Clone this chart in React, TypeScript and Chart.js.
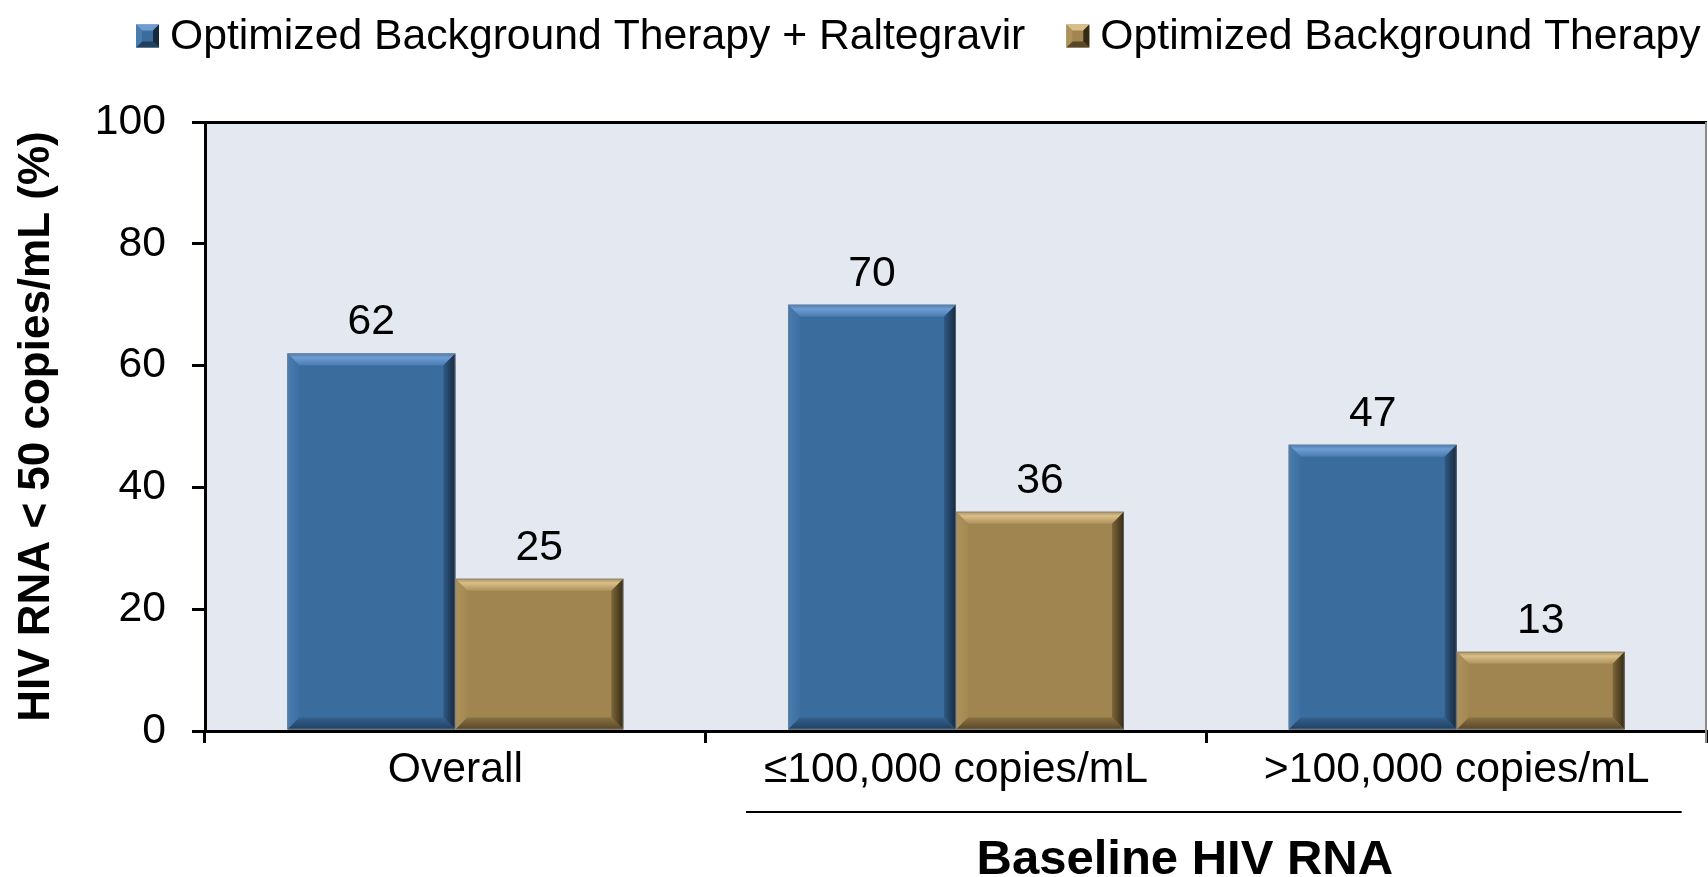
import React, { useEffect, useRef } from "react";
import { Chart, registerables } from "chart.js";

Chart.register(...registerables);

const categories = ["Overall", "\u2264100,000 copies/mL", ">100,000 copies/mL"];
const seriesLabels = ["Optimized Background Therapy + Raltegravir", "Optimized Background Therapy"];
const raltegravirValues = [62, 70, 47];
const obtValues = [25, 36, 13];
const yMin = 0;
const yMax = 100;
const yStep = 20;
const yAxisTitle = "HIV RNA < 50 copies/mL (%)";
const xAxisTitle = "Baseline HIV RNA";

const FONT = "'Liberation Sans', Arial, Helvetica, sans-serif";
const FS = 42.7;

type Palette = { main: string; top: [string, string]; right: [string, string]; bottom: [string, string]; left: [string, string] };
const palettes: Palette[] = [
  { main: "#3A6C9D", top: ["#6E9DD2", "#4A7BB0"], right: ["#17293D", "#2F5A86"], bottom: ["#22415F", "#34618F"], left: ["#4A7CB0", "#3D6FA2"] },
  { main: "#A08550", top: ["#D8BE88", "#AE925C"], right: ["#332914", "#7E6839"], bottom: ["#574728", "#8A7143"], left: ["#AE925C", "#A38852"] },
];

const bgPlugin = {
  id: "plotBg",
  beforeDraw(chart: any) {
    const { ctx, chartArea: a } = chart;
    ctx.save();
    ctx.fillStyle = "#E4E8F1";
    ctx.fillRect(a.left, a.top, a.right - a.left, a.bottom - a.top);
    ctx.restore();
  },
};

function poly(ctx: CanvasRenderingContext2D, pts: number[][], fill: any) {
  ctx.beginPath();
  ctx.moveTo(pts[0][0], pts[0][1]);
  for (let i = 1; i < pts.length; i++) ctx.lineTo(pts[i][0], pts[i][1]);
  ctx.closePath();
  ctx.fillStyle = fill;
  ctx.fill();
}

const bevelPlugin = {
  id: "bevel",
  afterDatasetsDraw(chart: any) {
    const ctx: CanvasRenderingContext2D = chart.ctx;
    chart.data.datasets.forEach((ds: any, di: number) => {
      const meta = chart.getDatasetMeta(di);
      const p = palettes[di];
      meta.data.forEach((el: any, i: number) => {
        const { x, y, base, width } = el.getProps(["x", "y", "base", "width"], true);
        const l = x - width / 2;
        const r = x + width / 2;
        const t = y;
        const b = base;
        const bv = 12;
        ctx.save();
        let g = ctx.createLinearGradient(0, t, 0, t + bv);
        g.addColorStop(0, p.top[1]);
        g.addColorStop(0.35, p.top[0]);
        g.addColorStop(1, p.top[1]);
        poly(ctx, [[l, t], [r, t], [r - bv, t + bv], [l + bv, t + bv]], g);
        g = ctx.createLinearGradient(l, 0, l + bv, 0);
        g.addColorStop(0, p.left[0]);
        g.addColorStop(1, p.left[1]);
        poly(ctx, [[l, t], [l + bv, t + bv], [l + bv, b - bv], [l, b]], g);
        g = ctx.createLinearGradient(r, 0, r - bv, 0);
        g.addColorStop(0, p.right[0]);
        g.addColorStop(1, p.right[1]);
        poly(ctx, [[r, t], [r, b], [r - bv, b - bv], [r - bv, t + bv]], g);
        g = ctx.createLinearGradient(0, b, 0, b - bv);
        g.addColorStop(0, p.bottom[0]);
        g.addColorStop(1, p.bottom[1]);
        poly(ctx, [[l, b], [r, b], [r - bv, b - bv], [l + bv, b - bv]], g);
        ctx.strokeStyle = "rgba(120,130,140,0.6)";
        ctx.lineWidth = 1;
        ctx.strokeRect(l + 0.5, t + 0.5, width - 1, b - t - 1);
        // value label
        ctx.fillStyle = "#000";
        ctx.font = `${FS}px ${FONT}`;
        ctx.textAlign = "center";
        ctx.textBaseline = "alphabetic";
        ctx.fillText(String(ds.data[i]), x, t - 19);
        ctx.restore();
      });
    });
  },
};

const decorPlugin = {
  id: "decor",
  afterDraw(chart: any) {
    const ctx: CanvasRenderingContext2D = chart.ctx;
    const a = chart.chartArea;
    const xs = chart.scales.x;
    ctx.save();
    // right border of plot
    ctx.strokeStyle = "#8A8A8A";
    ctx.lineWidth = 2;
    ctx.beginPath();
    ctx.moveTo(a.right - 1, a.top);
    ctx.lineTo(a.right - 1, a.bottom + 12);
    ctx.stroke();
    // custom legend
    ctx.font = `${FS}px ${FONT}`;
    ctx.textBaseline = "middle";
    ctx.textAlign = "left";
    let lx = 136;
    const ly = 36;
    const box = 23;
    chart.data.datasets.forEach((ds: any, di: number) => {
      const p = palettes[di];
      const bx = lx, by = ly - box / 2;
      ctx.fillStyle = p.main;
      ctx.fillRect(bx, by, box, box);
      const bv = 6;
      poly(ctx, [[bx, by], [bx + box, by], [bx + box - bv, by + bv], [bx + bv, by + bv]], p.top[0]);
      poly(ctx, [[bx + box, by], [bx + box, by + box], [bx + box - bv, by + box - bv], [bx + box - bv, by + bv]], p.right[0]);
      poly(ctx, [[bx, by + box], [bx + box, by + box], [bx + box - bv, by + box - bv], [bx + bv, by + box - bv]], p.bottom[0]);
      poly(ctx, [[bx, by], [bx + bv, by + bv], [bx + bv, by + box - bv], [bx, by + box]], p.left[0]);
      ctx.fillStyle = "#000";
      const tx = bx + box + 11;
      ctx.fillText(ds.label, tx, ly + 1);
      lx = tx + ctx.measureText(ds.label).width + 41;
    });
    // grouping underline + x title
    const x1 = xs.getPixelForValue(1) - 210;
    const x2 = xs.getPixelForValue(2) + 225;
    ctx.strokeStyle = "#000";
    ctx.lineWidth = 2;
    ctx.beginPath();
    ctx.moveTo(x1, 812);
    ctx.lineTo(x2, 812);
    ctx.stroke();
    ctx.font = `bold 49px ${FONT}`;
    ctx.textAlign = "center";
    ctx.textBaseline = "middle";
    ctx.fillText(xAxisTitle, (x1 + x2) / 2 - 29, 860);
    ctx.restore();
  },
};

export default function App() {
  const ref = useRef<HTMLCanvasElement | null>(null);
  useEffect(() => {
    document.body.style.margin = "0";
    const canvas = ref.current!;
    const chart = new Chart(canvas, {
      type: "bar",
      data: {
        labels: categories,
        datasets: [
          { label: seriesLabels[0], data: raltegravirValues, backgroundColor: palettes[0].main, borderWidth: 0 },
          { label: seriesLabels[1], data: obtValues, backgroundColor: palettes[1].main, borderWidth: 0 },
        ],
      },
      options: {
        animation: false,
        responsive: false,
        devicePixelRatio: 1,
        layout: { padding: { top: 122, right: 1, left: 0, bottom: 0 } },
        datasets: { bar: { categoryPercentage: 0.671, barPercentage: 1.0 } },
        plugins: { legend: { display: false }, tooltip: { enabled: false }, title: { display: false } },
        scales: {
          x: {
            offset: true,
            afterFit: (s: any) => { s.height = 146; },
            grid: {
              offset: true,
              drawOnChartArea: false,
              drawTicks: true,
              tickLength: 12,
              lineWidth: 3,
              color: (c: any) => (c.index === 3 ? "#8A8A8A" : "#000"),
            },
            border: { display: true, color: "#000", width: 3 },
            ticks: { color: "#000", font: { family: FONT, size: FS }, padding: 2, maxRotation: 0, autoSkip: false },
          },
          y: {
            min: yMin,
            max: yMax,
            afterFit: (s: any) => { s.width = 205; },
            grid: {
              drawOnChartArea: true,
              drawTicks: true,
              tickLength: 13,
              lineWidth: 3,
              color: (c: any) => (c.tick && c.tick.value === yMax ? "#000" : "rgba(0,0,0,0)"),
              tickColor: "#000",
            },
            border: { display: true, color: "#000", width: 3 },
            ticks: { stepSize: yStep, color: "#000", font: { family: FONT, size: FS }, padding: 26 },
            title: {
              display: true,
              text: yAxisTitle,
              color: "#000",
              font: { family: FONT, size: 44, weight: "bold" },
              padding: { top: 10, bottom: 0 },
            },
          },
        },
      },
      plugins: [bgPlugin, bevelPlugin, decorPlugin],
    });
    return () => chart.destroy();
  }, []);
  return (
    <div style={{ width: 1708, height: 877 }}>
      <canvas ref={ref} width={1708} height={877} style={{ display: "block", width: 1708, height: 877 }} />
    </div>
  );
}
